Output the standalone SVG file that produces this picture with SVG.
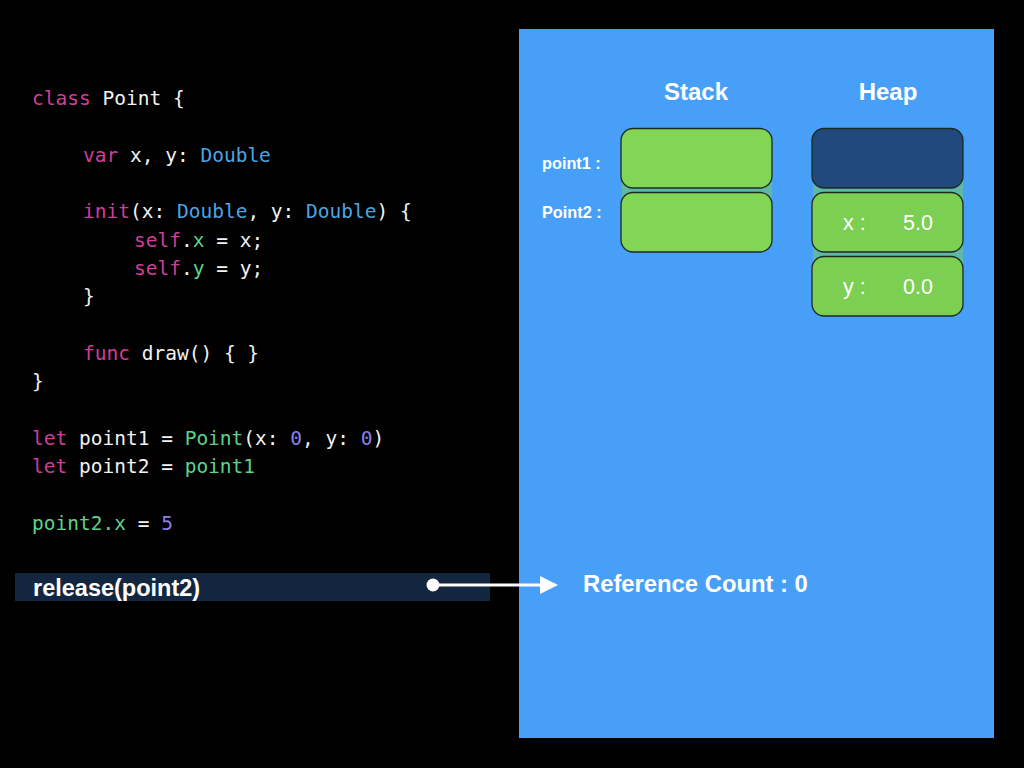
<svg xmlns="http://www.w3.org/2000/svg" width="1024" height="768" viewBox="0 0 1024 768">
<style>
.code{font-family:"DejaVu Sans Mono","Liberation Mono",monospace;font-size:19.5px;fill:#f2f2f2;white-space:pre;stroke:currentColor;stroke-width:0}
.kw{fill:#cf3e98}
.ty{fill:#4aa6e2}
.gr{fill:#5cd38c}
.nu{fill:#8b80e6}
.lbl{font-family:"Liberation Sans",Arial,sans-serif;fill:#ffffff}
.b{font-weight:bold}
.cell{stroke:#1c2b22;stroke-width:1.3}
.green{fill:#83d655}
.hgreen{fill:#7ccf52}
.dark{fill:#1f4a7b}
.strip{fill:#5fb7a6}
</style>
<defs>
<marker id="arr" markerWidth="6" markerHeight="6" refX="5" refY="3" orient="auto" markerUnits="strokeWidth">
<path d="M0,0 L6,3 L0,6 Z" fill="#ffffff"/>
</marker>
</defs>
<rect x="0" y="0" width="1024" height="768" fill="#000000"/>
<rect id="panel" x="519" y="29" width="475" height="709" fill="#479ff8"/>

<g id="code">
<text class="code" x="32" y="105"><tspan class="kw">class</tspan> Point {</text>
<text class="code" x="83" y="161.7"><tspan class="kw">var</tspan> x, y: <tspan class="ty">Double</tspan></text>
<text class="code" x="83" y="218.3"><tspan class="kw">init</tspan>(x: <tspan class="ty">Double</tspan>, y: <tspan class="ty">Double</tspan>) {</text>
<text class="code" x="134" y="246.7"><tspan class="kw">self</tspan>.<tspan class="gr">x</tspan> = x;</text>
<text class="code" x="134" y="275"><tspan class="kw">self</tspan>.<tspan class="gr">y</tspan> = y;</text>
<text class="code" x="83" y="303.3">}</text>
<text class="code" x="83" y="360"><tspan class="kw">func</tspan> draw() { }</text>
<text class="code" x="32" y="388.3">}</text>
<text class="code" x="32" y="445"><tspan class="kw">let</tspan> point1 = <tspan class="gr">Point</tspan>(x: <tspan class="nu">0</tspan>, y: <tspan class="nu">0</tspan>)</text>
<text class="code" x="32" y="473.3"><tspan class="kw">let</tspan> point2 = <tspan class="gr">point1</tspan></text>
<text class="code" x="32" y="530"><tspan class="gr">point2.x</tspan> = <tspan class="nu">5</tspan></text>
</g>

<g id="release-line">
<rect x="15" y="573" width="475" height="28" fill="#13263f"/>
<text class="lbl b" x="33" y="596" font-size="23.5">release(point2)</text>
</g>

<g id="headers">
<text class="lbl b" x="696" y="100" font-size="24" text-anchor="middle">Stack</text>
<text class="lbl b" x="888" y="100" font-size="24" text-anchor="middle">Heap</text>
</g>

<g id="stack">
<rect class="strip" x="622" y="180" width="150" height="20"/>
<g id="stack-point1">
<text class="lbl b" x="542" y="169" font-size="16.3">point1 :</text>
<rect class="cell green" x="621" y="128.5" width="151" height="59.5" rx="12"/>
</g>
<g id="stack-point2">
<text class="lbl b" x="542" y="218" font-size="16.3">Point2 :</text>
<rect class="cell green" x="621" y="192.5" width="151" height="59.5" rx="12"/>
</g>
</g>

<g id="heap">
<rect class="strip" x="813" y="180" width="150" height="84"/>
<g id="heap-header">
<rect class="cell dark" x="812" y="128.5" width="151" height="59.5" rx="12"/>
</g>
<g id="heap-x">
<rect class="cell hgreen" x="812" y="192.5" width="151" height="59.5" rx="12"/>
<text class="lbl" x="843" y="229.5" font-size="21.5">x :</text>
<text class="lbl" x="903" y="229.5" font-size="21.5">5.0</text>
</g>
<g id="heap-y">
<rect class="cell hgreen" x="812" y="256.5" width="151" height="59.5" rx="12"/>
<text class="lbl" x="843" y="293.5" font-size="21.5">y :</text>
<text class="lbl" x="903" y="293.5" font-size="21.5">0.0</text>
</g>
</g>

<g id="refcount">
<text class="lbl b" x="583" y="592" font-size="23.8">Reference Count : 0</text>
</g>

<g id="connectors">
<circle cx="433" cy="585" r="6.5" fill="#ffffff"/>
<line x1="433" y1="585" x2="555" y2="585" stroke="#ffffff" stroke-width="3" marker-end="url(#arr)"/>
</g>
</svg>
